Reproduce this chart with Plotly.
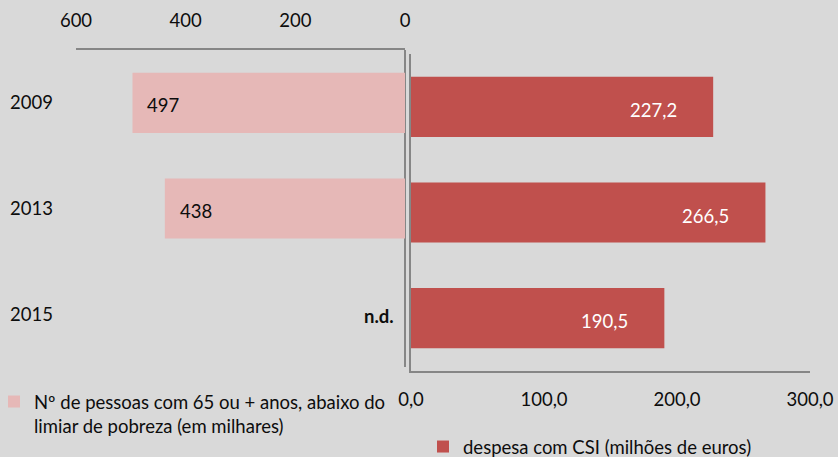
import plotly.graph_objects as go

years = ["2009", "2013", "2015"]
pobreza = [497, 438, None]          # milhares de pessoas (n.d. em 2015)
despesa = [227.2, 266.5, 190.5]     # milhões de euros
left_ticks = [0, 200, 400, 600]
right_tickvals = [0, 100, 200, 300]
right_ticktext = ["0,0", "100,0", "200,0", "300,0"]
name_pobreza = "Nº de pessoas com 65 ou + anos, abaixo do<br>limiar de pobreza (em milhares)"
name_despesa = "despesa com CSI (milhões de euros)"

PINK = "#e6b8b7"
RED = "#c0504d"
BG = "#d9d9d9"
AX = "#868686"
TXT = "#0d0d0d"
FONT = "Lato"
FS = 18.5
W, H = 838, 457

fig = go.Figure()
fig.add_trace(go.Bar(
    y=years, x=[v if v is not None else 0 for v in pobreza], orientation="h",
    marker=dict(color=PINK, line=dict(width=0)), name=name_pobreza,
    xaxis="x", yaxis="y", legend="legend", hoverinfo="skip",
))
fig.add_trace(go.Bar(
    y=years, x=despesa, orientation="h",
    marker=dict(color=RED, line=dict(width=0)), name=name_despesa,
    xaxis="x2", yaxis="y2", legend="legend2", hoverinfo="skip",
))


def px_x(p):
    return p / W


def px_y(p):
    return 1 - p / H


fig.update_layout(
    width=W, height=H,
    margin=dict(l=0, r=0, t=0, b=0, autoexpand=False),
    paper_bgcolor=BG, plot_bgcolor=BG,
    font=dict(family=FONT, size=FS, color=TXT),
    bargap=0.43,
    showlegend=True,
    xaxis=dict(
        domain=[px_x(76), px_x(405)], range=[600, 0], side="top",
        tickvals=left_ticks, ticks="", ticklabelstandoff=14,
        showline=True, linecolor=AX, linewidth=2,
        showgrid=False, zeroline=True, zerolinecolor=AX, zerolinewidth=2,
        anchor="y", automargin=False,
    ),
    yaxis=dict(
        domain=[px_y(367), px_y(50)], type="category",
        categoryorder="array", categoryarray=years, range=[2.5, -0.5],
        showline=False, showgrid=False, ticks="", ticklabelstandoff=22,
        anchor="x", automargin=False,
    ),
    xaxis2=dict(
        domain=[px_x(411), px_x(810)], range=[0, 300], side="bottom",
        tickvals=right_tickvals, ticktext=right_ticktext, ticks="",
        ticklabelstandoff=11,
        showline=True, linecolor=AX, linewidth=2,
        showgrid=False, zeroline=False,
        anchor="y2", automargin=False,
    ),
    yaxis2=dict(
        domain=[px_y(371), px_y(54)], type="category",
        categoryorder="array", categoryarray=years, range=[2.5, -0.5],
        showline=True, linecolor=AX, linewidth=2,
        showgrid=False, showticklabels=False, ticks="",
        anchor="x2", automargin=False,
    ),
    legend=dict(
        x=px_x(-6), y=px_y(383), xanchor="left", yanchor="top",
        bgcolor="rgba(0,0,0,0)", font=dict(family=FONT, size=FS, color=TXT),
        itemwidth=30, tracegroupgap=0, valign="top",
    ),
    legend2=dict(
        x=px_x(423), y=px_y(428), xanchor="left", yanchor="top",
        bgcolor="rgba(0,0,0,0)", font=dict(family=FONT, size=FS, color=TXT),
        itemwidth=30,
    ),
)

# category positions are referenced by index (numeric-looking names would be read as positions)
for i, v in enumerate(pobreza):
    if v is None:
        fig.add_annotation(x=0, y=i, xref="x", yref="y", text="<b>n.d.</b>",
                           xanchor="right", xshift=-9, yshift=-2, showarrow=False,
                           font=dict(family=FONT, size=FS, color=TXT))
    else:
        fig.add_annotation(x=v, y=i, xref="x", yref="y", text=str(v),
                           xanchor="left", xshift=13, yshift=-2, showarrow=False,
                           font=dict(family=FONT, size=FS, color=TXT))
for i, v in enumerate(despesa):
    fig.add_annotation(x=v, y=i, xref="x2", yref="y2",
                       text=f"{v:.1f}".replace(".", ","),
                       xanchor="right", xshift=-34, yshift=-3, showarrow=False,
                       font=dict(family=FONT, size=FS, color="#ffffff"))

fig.write_html(
    "out.html",
    config={"displayModeBar": False},
    post_script="document.body.style.margin='0';document.body.style.background='%s';" % BG,
)
